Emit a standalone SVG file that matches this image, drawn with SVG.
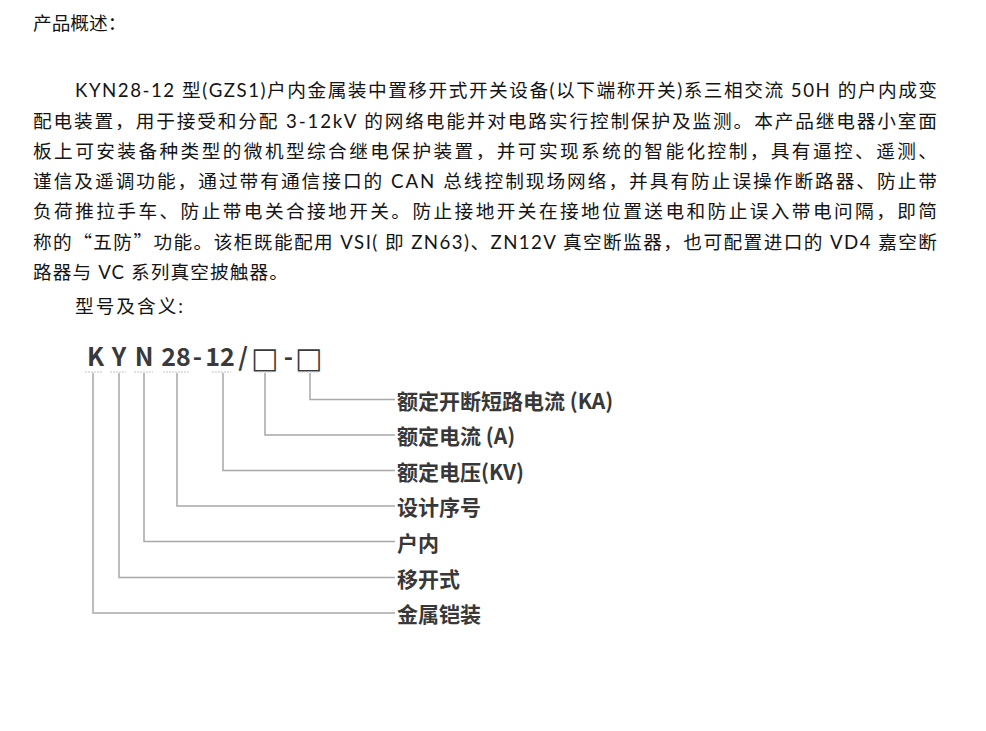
<svg xmlns="http://www.w3.org/2000/svg" width="986" height="731" viewBox="0 0 986 731">
<style>
.body{font-family:Lato,"Noto Sans CJK SC",sans-serif;font-size:18.67px;fill:#141414}
.cjk{font-family:"Noto Sans CJK SC",sans-serif}
.code{font-family:"Noto Sans CJK SC",sans-serif;font-weight:bold;font-size:25px;fill:#3a3a3a;text-anchor:middle}
.box{font-family:"DejaVu Sans",sans-serif;font-weight:normal;font-size:29px;fill:#3a3a3a;text-anchor:middle}
.lbl{font-family:"Noto Sans CJK SC",sans-serif;font-weight:bold;font-size:21px;fill:#383838;dominant-baseline:central}
.wire{fill:none;stroke:#a8a8a8;stroke-width:1.5}
.dash{fill:none;stroke:#c4c4c4;stroke-width:1.2;stroke-dasharray:2 1}
</style>
<rect width="986" height="731" fill="#fff"/>
<g id="intro" xml:space="preserve">
<text class="body" x="33" y="30">产品概述：</text>
<text class="body" x="75" y="97" textLength="862" lengthAdjust="spacing">KYN28-12  型(GZS1)户内金属装中置移开式开关设备(以下端称开关)系三相交流  50H  的户内成变</text>
<text class="body" x="33" y="128" textLength="904" lengthAdjust="spacing">配电装置，用于接受和分配 3-12kV 的网络电能并对电路实行控制保护及监测。本产品继电器小室面</text>
<text class="body" x="33" y="158" textLength="904" lengthAdjust="spacing">板上可安装备种类型的微机型综合继电保护装置，并可实现系统的智能化控制，具有逼控、遥测、</text>
<text class="body" x="33" y="188" textLength="904" lengthAdjust="spacing">谨信及遥调功能，通过带有通信接口的 CAN 总线控制现场网络，并具有防止误操作断路器、防止带</text>
<text class="body" x="33" y="218" textLength="904" lengthAdjust="spacing">负荷推拉手车、防止带电关合接地开关。防止接地开关在接地位置送电和防止误入带电问隔，即简</text>
<text class="body" x="33" y="249" textLength="904" lengthAdjust="spacing">称的<tspan class="cjk">“</tspan>五防<tspan class="cjk">”</tspan>功能。该柜既能配用 VSI(  即 ZN63)、ZN12V 真空断监器，也可配置进口的  VD4 嘉空断</text>
<text class="body" x="33" y="279" textLength="255" lengthAdjust="spacing">路器与 VC 系列真空披触器。</text>
<text class="body" x="75" y="313" textLength="108" lengthAdjust="spacing">型号及含义:</text>
</g>
<g id="model-code">
<text class="code" x="95.5" y="366">K</text>
<text class="code" x="119" y="366">Y</text>
<text class="code" x="144" y="366">N</text>
<text class="code" x="176" y="366">28</text>
<text class="code" x="197.5" y="366">-</text>
<text class="code" x="220" y="366">12</text>
<text class="code" x="243" y="366">/</text>
<text class="box" x="265" y="368">□</text>
<text class="code" x="288.5" y="366">-</text>
<text class="box" x="309" y="368">□</text>
<path class="dash" d="M85 372H102M110 372H126M134 372H153M163 372H190M212 372H231M258 372H273M298 372H318"/>
</g>
<g id="connectors">
<path class="wire" d="M310 373V399.5H395"/>
<path class="wire" d="M265 373V435H395"/>
<path class="wire" d="M223 373V470.5H395"/>
<path class="wire" d="M177 373V506H395"/>
<path class="wire" d="M144 373V541.5H395"/>
<path class="wire" d="M119 373V577.5H395"/>
<path class="wire" d="M93 373V613H395"/>
</g>
<g id="label-ka"><text class="lbl" x="397" y="399.5">额定开断短路电流 (KA)</text></g>
<g id="label-a"><text class="lbl" x="397" y="435">额定电流 (A)</text></g>
<g id="label-kv"><text class="lbl" x="397" y="470.5">额定电压(KV)</text></g>
<g id="label-serial"><text class="lbl" x="397" y="506">设计序号</text></g>
<g id="label-indoor"><text class="lbl" x="397" y="541.5">户内</text></g>
<g id="label-withdrawable"><text class="lbl" x="397" y="577.5">移开式</text></g>
<g id="label-metalclad"><text class="lbl" x="397" y="613">金属铠装</text></g>
</svg>
